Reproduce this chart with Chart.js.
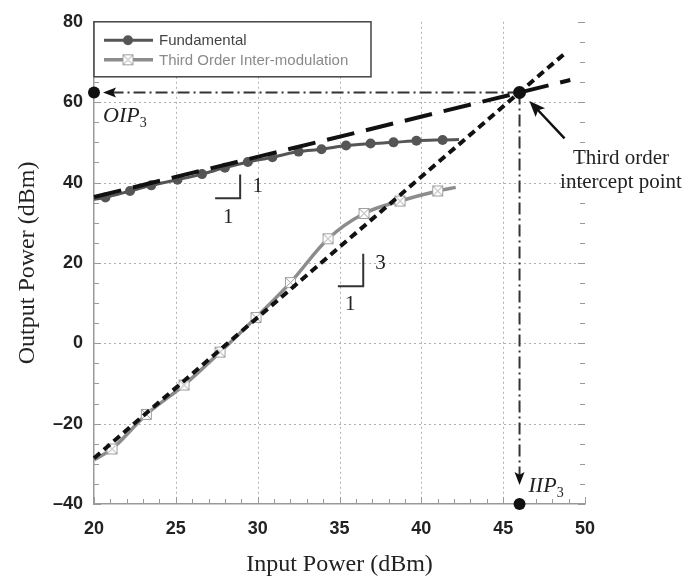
<!DOCTYPE html>
<html><head><meta charset="utf-8">
<script src="https://cdn.jsdelivr.net/npm/chart.js@4.4.1/dist/chart.umd.min.js"></script>
<style>html,body{margin:0;padding:0;background:#fff;}#wrap{width:688px;height:581px;}</style>
</head><body><div id="wrap"><canvas id="c" width="688" height="581"></canvas></div>
<script>
// ---- data ----
const xTicks = [20, 25, 30, 35, 40, 45, 50];
const yTicks = [-40, -20, 0, 20, 40, 60, 80];

const fundX = [20, 20.7, 22.2, 23.5, 25.1, 26.6, 28.0, 29.4, 30.9, 32.5, 33.9, 35.4, 36.9, 38.3, 39.7, 41.3, 42.3];
const fundY = [35.8, 36.3, 37.9, 39.3, 40.7, 42.1, 43.7, 45.1, 46.3, 47.7, 48.3, 49.2, 49.7, 50.0, 50.4, 50.6, 50.7];

const imdX = [20, 21.1, 23.2, 25.5, 27.7, 29.9, 32.0, 34.3, 36.5, 38.7, 41.0, 42.1];
const imdY = [-29.0, -26.3, -17.7, -10.4, -2.2, 6.4, 15.1, 26.0, 32.3, 35.4, 37.9, 38.8];

const fundFitX = [20, 49.1];
const fundFitY = [36.4, 65.5];
const imdFitX = [20, 48.9];
const imdFitY = [-28.6, 72.6];

const interceptX = [46];
const interceptY = [62.4];
const oipX = [20];
const oipY = [62.4];
const iipX = [46];
const iipY = [-40];

const guideHX = [46, 20.55];
const guideHY = [62.4, 62.4];
const guideVX = [46, 46];
const guideVY = [62.4, -35.3];
const calloutX = [48.75, 46.6];
const calloutY = [51.0, 60.3];

const slope1X = [27.4, 28.93, 28.93];
const slope1Y = [36.1, 36.1, 42.0];
const slope3X = [34.9, 36.45, 36.45];
const slope3Y = [14.2, 14.2, 22.3];

const seriesNames = ['Fundamental', 'Third Order Inter-modulation'];
const noteTexts = ['Third order', 'intercept point'];
const noteX = [52.2, 52.2];
const noteY = [46.1, 40.0];
const slopeLabels = ['1', '1', '3', '1'];
const slopeLabelX = [30.0, 28.2, 37.5, 35.65];
const slopeLabelY = [39.0, 31.4, 19.9, 9.6];
const oipLabelPos = [20.55, 55.0];
const iipLabelPos = [46.55, -37.1];

// ---- helpers ----
const pts = (X, Y) => X.map((x, i) => ({x: x, y: Y[i]}));
const innerR = (n, r) => Array.from({length: n}, (_, i) => (i === 0 || i === n - 1) ? 0 : r);

function makeImdMarker() {
  const s = 13, c = document.createElement('canvas');
  c.width = s; c.height = s;
  const g = c.getContext('2d');
  g.fillStyle = '#fff'; g.fillRect(1, 1, s - 2, s - 2);
  g.strokeStyle = '#a0a0a0'; g.lineWidth = 1;
  g.strokeRect(1.5, 1.5, s - 3, s - 3);
  g.beginPath();
  g.moveTo(1.5, 1.5); g.lineTo(s - 1.5, s - 1.5);
  g.moveTo(s - 1.5, 1.5); g.lineTo(1.5, s - 1.5);
  g.stroke();
  return c;
}
const imdMarker = makeImdMarker();

const SERIF = '"Liberation Serif","Times New Roman",serif';
const SANS = '"Liberation Sans",Arial,sans-serif';

function arrowHead(ctx, x0, y0, x1, y1, len, half) {
  const a = Math.atan2(y1 - y0, x1 - x0);
  ctx.save();
  ctx.translate(x1, y1); ctx.rotate(a);
  ctx.beginPath();
  ctx.moveTo(0, 0); ctx.lineTo(-len, -half); ctx.lineTo(-len * 0.8, 0); ctx.lineTo(-len, half);
  ctx.closePath(); ctx.fill();
  ctx.restore();
}

const annot = {
  id: 'annot',
  beforeDatasetsDraw(chart) {
    const {ctx, chartArea: a, scales: {x, y}} = chart;
    ctx.save();
    // dotted grid lines at inner major ticks
    ctx.strokeStyle = '#b0b0b0'; ctx.lineWidth = 1; ctx.setLineDash([2, 3]);
    ctx.beginPath();
    xTicks.slice(1, -1).forEach(v => {
      const px = Math.round(x.getPixelForValue(v)) + 0.5;
      ctx.moveTo(px, a.top); ctx.lineTo(px, a.bottom);
    });
    yTicks.slice(1, -1).forEach(v => {
      const py = Math.round(y.getPixelForValue(v)) + 0.5;
      ctx.moveTo(a.left, py); ctx.lineTo(a.right, py);
    });
    ctx.stroke();
    ctx.setLineDash([]);
    // minor ticks
    ctx.strokeStyle = '#9a9a9a'; ctx.lineWidth = 1;
    ctx.beginPath();
    for (let v = xTicks[0]; v <= xTicks[xTicks.length - 1]; v += 1) {
      const px = Math.round(x.getPixelForValue(v)) + 0.5;
      const len = (v % 5 === 0) ? 7 : 5;
      ctx.moveTo(px, a.bottom); ctx.lineTo(px, a.bottom - len);
    }
    for (let v = yTicks[0]; v <= yTicks[yTicks.length - 1]; v += 5) {
      const py = Math.round(y.getPixelForValue(v)) + 0.5;
      const len = (v % 20 === 0) ? 7 : 5;
      ctx.moveTo(a.left, py); ctx.lineTo(a.left + len, py);
      ctx.moveTo(a.right, py); ctx.lineTo(a.right - len, py);
    }
    ctx.stroke();
    // dash-dot guide lines
    ctx.strokeStyle = '#333'; ctx.fillStyle = '#111'; ctx.lineWidth = 2;
    ctx.setLineDash([12, 4, 2, 4]);
    ctx.beginPath();
    ctx.moveTo(x.getPixelForValue(guideHX[0]), y.getPixelForValue(guideHY[0]));
    ctx.lineTo(x.getPixelForValue(guideHX[1]) + 10, y.getPixelForValue(guideHY[1]));
    ctx.moveTo(x.getPixelForValue(guideVX[0]), y.getPixelForValue(guideVY[0]));
    ctx.lineTo(x.getPixelForValue(guideVX[1]), y.getPixelForValue(guideVY[1]) - 10);
    ctx.stroke();
    ctx.setLineDash([]);
    arrowHead(ctx, x.getPixelForValue(guideHX[0]), y.getPixelForValue(guideHY[0]),
      x.getPixelForValue(guideHX[1]), y.getPixelForValue(guideHY[1]), 13, 5);
    arrowHead(ctx, x.getPixelForValue(guideVX[0]), y.getPixelForValue(guideVY[0]),
      x.getPixelForValue(guideVX[1]), y.getPixelForValue(guideVY[1]), 13, 5);
    ctx.restore();
  },
  afterDatasetsDraw(chart) {
    const {ctx, scales: {x, y}} = chart;
    ctx.save();
    // callout arrow
    ctx.strokeStyle = '#111'; ctx.fillStyle = '#111'; ctx.lineWidth = 2.5;
    const cx0 = x.getPixelForValue(calloutX[0]), cy0 = y.getPixelForValue(calloutY[0]);
    const cx1 = x.getPixelForValue(calloutX[1]), cy1 = y.getPixelForValue(calloutY[1]);
    ctx.beginPath(); ctx.moveTo(cx0, cy0);
    const ang = Math.atan2(cy1 - cy0, cx1 - cx0);
    ctx.lineTo(cx1 - 10 * Math.cos(ang), cy1 - 10 * Math.sin(ang)); ctx.stroke();
    arrowHead(ctx, cx0, cy0, cx1, cy1, 16, 6.5);
    // slope triangles
    ctx.strokeStyle = '#333'; ctx.lineWidth = 2;
    [[slope1X, slope1Y], [slope3X, slope3Y]].forEach(([X, Y]) => {
      ctx.beginPath();
      X.forEach((v, i) => {
        const px = x.getPixelForValue(v), py = y.getPixelForValue(Y[i]);
        if (i === 0) ctx.moveTo(px, py); else ctx.lineTo(px, py);
      });
      ctx.stroke();
    });
    // texts
    ctx.fillStyle = '#222';
    ctx.textAlign = 'center'; ctx.textBaseline = 'middle';
    ctx.font = '21px ' + SERIF;
    slopeLabels.forEach((t, i) => ctx.fillText(t, x.getPixelForValue(slopeLabelX[i]), y.getPixelForValue(slopeLabelY[i])));
    noteTexts.forEach((t, i) => ctx.fillText(t, x.getPixelForValue(noteX[i]), y.getPixelForValue(noteY[i])));
    // OIP3 / IIP3
    ctx.textAlign = 'left'; ctx.textBaseline = 'alphabetic';
    [['OIP', oipLabelPos], ['IIP', iipLabelPos]].forEach(([t, p]) => {
      const px = x.getPixelForValue(p[0]), py = y.getPixelForValue(p[1]);
      ctx.font = 'italic 22px ' + SERIF;
      ctx.fillText(t, px, py);
      const w = ctx.measureText(t).width;
      ctx.font = '14px ' + SERIF;
      ctx.fillText('3', px + w, py + 5);
    });
    ctx.restore();
  },
  afterDraw(chart) {
    const {ctx, chartArea: a} = chart;
    ctx.save();
    const L = a.left, T = a.top, W = 277, H = 55;
    ctx.fillStyle = '#fff'; ctx.fillRect(L, T, W, H);
    ctx.strokeStyle = '#444'; ctx.lineWidth = 1.5; ctx.strokeRect(L, T, W, H);
    const rows = [T + 18.5, T + 38];
    const ds = chart.data.datasets;
    [2, 3].forEach((di, r) => {
      const d = ds[di];
      ctx.strokeStyle = d.borderColor; ctx.lineWidth = d.borderWidth;
      ctx.beginPath(); ctx.moveTo(L + 10, rows[r]); ctx.lineTo(L + 59, rows[r]); ctx.stroke();
      if (r === 0) {
        ctx.fillStyle = d.pointBackgroundColor;
        ctx.beginPath(); ctx.arc(L + 34, rows[r], 5, 0, Math.PI * 2); ctx.fill();
      } else {
        ctx.drawImage(imdMarker, L + 34 - imdMarker.width / 2, rows[r] - imdMarker.height / 2);
      }
      ctx.fillStyle = r === 0 ? '#444' : '#8a8a8a';
      ctx.font = '15px ' + SANS; ctx.textAlign = 'left'; ctx.textBaseline = 'middle';
      ctx.fillText(seriesNames[r], L + 65, rows[r] + 1);
    });
    ctx.restore();
  }
};

new Chart(document.getElementById('c'), {
  type: 'scatter',
  data: {
    datasets: [
      {label: 'fundFit', data: pts(fundFitX, fundFitY), showLine: true, borderColor: '#111', borderWidth: 4,
       borderDash: [28, 12], pointRadius: 0, clip: false},
      {label: 'imdFit', data: pts(imdFitX, imdFitY), showLine: true, borderColor: '#111', borderWidth: 4,
       borderDash: [8, 5], pointRadius: 0, clip: false},
      {label: seriesNames[0], data: pts(fundX, fundY), showLine: true, borderColor: '#555', borderWidth: 3,
       cubicInterpolationMode: 'monotone', pointRadius: innerR(fundX.length, 5), pointBackgroundColor: '#555',
       pointBorderWidth: 0},
      {label: seriesNames[1], data: pts(imdX, imdY), showLine: true, borderColor: '#8c8c8c', borderWidth: 3.5,
       cubicInterpolationMode: 'monotone', pointRadius: innerR(imdX.length, 6), pointStyle: imdMarker},
      {label: 'intercept', data: pts(interceptX, interceptY), pointRadius: 6.5, pointBackgroundColor: '#111', pointBorderWidth: 0, clip: false},
      {label: 'OIP3', data: pts(oipX, oipY), pointRadius: 6, pointBackgroundColor: '#111', pointBorderWidth: 0, clip: false},
      {label: 'IIP3', data: pts(iipX, iipY), pointRadius: 6, pointBackgroundColor: '#111', pointBorderWidth: 0, clip: false}
    ]
  },
  options: {
    responsive: false, animation: false, devicePixelRatio: 1,
    layout: {padding: {top: 15, right: 103, bottom: 0, left: 0}},
    plugins: {legend: {display: false}, tooltip: {enabled: false}},
    scales: {
      x: {
        type: 'linear', min: xTicks[0], max: xTicks[xTicks.length - 1],
        afterBuildTicks: (s) => { s.ticks = xTicks.map(v => ({value: v})); },
        afterFit: (s) => { s.height = 77; },
        border: {display: true, color: '#999', width: 1.5},
        grid: {display: false, drawTicks: false},
        ticks: {padding: 14, color: '#222', font: {family: SANS, size: 18, weight: 'bold'}, maxRotation: 0},
        title: {display: true, text: 'Input Power (dBm)', color: '#222', font: {family: SERIF, size: 24}, padding: {top: 0, bottom: 2}}
      },
      y: {
        type: 'linear', min: yTicks[0], max: yTicks[yTicks.length - 1],
        afterBuildTicks: (s) => { s.ticks = yTicks.map(v => ({value: v})); },
        afterFit: (s) => { s.width = 94; },
        border: {display: true, color: '#999', width: 1.5},
        grid: {display: false, drawTicks: false},
        ticks: {padding: 11, color: '#222', font: {family: SANS, size: 18, weight: 'bold'},
                callback: (v) => v < 0 ? '\u2013' + Math.abs(v) : String(v)},
        title: {display: true, text: 'Output Power (dBm)', color: '#222', font: {family: SERIF, size: 24}, padding: {top: 13, bottom: 0}}
      }
    }
  },
  plugins: [annot]
});
</script>
</body></html>
